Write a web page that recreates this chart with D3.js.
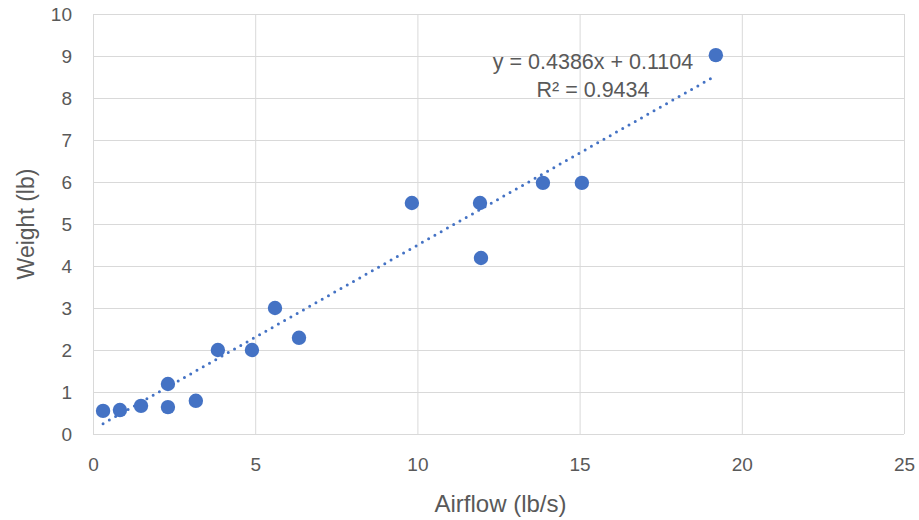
<!DOCTYPE html>
<html>
<head>
<meta charset="utf-8">
<script src="https://cdn.jsdelivr.net/npm/d3@7"></script>
<style>
  body { margin: 0; background: #fff; }
  text { font-family: "Liberation Sans", Arial, sans-serif; fill: #595959; }
</style>
</head>
<body>
<script>
// airflow (lb/s) vs weight (lb)
var airflow = [0.31, 0.83, 1.48, 2.31, 2.31, 3.17, 3.85, 4.9, 5.61, 6.35, 9.83, 11.93, 11.96, 13.87, 15.07, 19.2];
var weight = [0.55, 0.57, 0.67, 1.19, 0.64, 0.79, 2.0, 2.0, 3.0, 2.29, 5.5, 5.5, 4.19, 5.98, 5.98, 9.02];
var xTicks = [0, 5, 10, 15, 20, 25];
var yTicks = [0, 1, 2, 3, 4, 5, 6, 7, 8, 9, 10];
var slope = 0.4386, intercept = 0.1104;
var equationLines = ["y = 0.4386x + 0.1104", "R² = 0.9434"];

var margin = {top: 14, right: 15, bottom: 86, left: 93},
    width = 919 - margin.left - margin.right,
    height = 520 - margin.top - margin.bottom;

var x = d3.scaleLinear().domain([0, 25]).range([0, width]);
var y = d3.scaleLinear().domain([0, 10]).range([height, 0]);

var svg = d3.select("body").append("svg")
    .attr("width", 919)
    .attr("height", 520)
    .append("g")
    .attr("transform", "translate(" + margin.left + "," + margin.top + ")");

// gridlines
svg.append("g")
    .selectAll("line.h")
    .data(yTicks)
    .enter().append("line")
    .attr("x1", 0).attr("x2", width)
    .attr("y1", d => y(d) + 0.5).attr("y2", d => y(d) + 0.5)
    .attr("stroke", "#d9d9d9");
svg.append("g")
    .selectAll("line.v")
    .data(xTicks)
    .enter().append("line")
    .attr("y1", 0).attr("y2", height)
    .attr("x1", d => x(d) + 0.5).attr("x2", d => x(d) + 0.5)
    .attr("stroke", "#d9d9d9");

// axes (labels only)
var xAxis = d3.axisBottom(x).tickValues(xTicks).tickSize(0).tickPadding(24);
var yAxis = d3.axisLeft(y).tickValues(yTicks).tickSize(0).tickPadding(21);

svg.append("g")
    .attr("transform", "translate(0," + height + ")")
    .call(xAxis)
    .call(g => g.select(".domain").remove())
    .selectAll("text").attr("font-size", 19).attr("fill", "#595959")
    .attr("font-family", "Liberation Sans, Arial, sans-serif");

svg.append("g")
    .call(yAxis)
    .call(g => g.select(".domain").remove())
    .selectAll("text").attr("font-size", 19).attr("fill", "#595959")
    .attr("font-family", "Liberation Sans, Arial, sans-serif");

// trendline
var xMin = d3.min(airflow), xMax = d3.max(airflow);
svg.append("line")
    .attr("x1", x(xMin)).attr("y1", y(slope * xMin + intercept))
    .attr("x2", x(xMax)).attr("y2", y(slope * xMax + intercept))
    .attr("stroke", "#4472c4")
    .attr("stroke-width", 3)
    .attr("stroke-linecap", "round")
    .attr("stroke-dasharray", "0 7.2");

// points
svg.append("g")
    .selectAll("circle")
    .data(airflow)
    .enter().append("circle")
    .attr("cx", d => x(d))
    .attr("cy", (d, i) => y(weight[i]))
    .attr("r", 7.2)
    .attr("fill", "#4472c4");

// equation label
svg.append("g")
    .selectAll("text")
    .data(equationLines)
    .enter().append("text")
    .attr("x", 500)
    .attr("y", (d, i) => 55 + i * 28)
    .attr("text-anchor", "middle")
    .attr("font-size", 21.5)
    .text(d => d);

// axis titles
svg.append("text")
    .attr("x", width / 2 + 2)
    .attr("y", height + 78)
    .attr("text-anchor", "middle")
    .attr("font-size", 24)
    .text("Airflow (lb/s)");

svg.append("text")
    .attr("transform", "translate(" + (-67) + "," + (height / 2) + ") rotate(-90)")
    .attr("dy", "0.35em")
    .attr("text-anchor", "middle")
    .attr("font-size", 23)
    .text("Weight (lb)");
</script>
</body>
</html>
